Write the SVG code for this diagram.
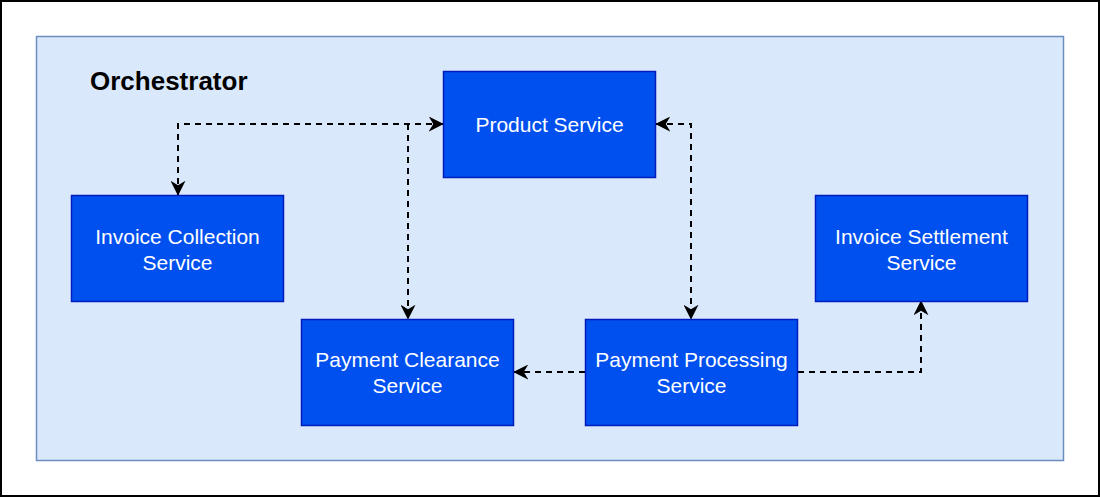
<svg xmlns="http://www.w3.org/2000/svg" width="1100" height="497" viewBox="0 0 1100 497">
<style>
.node rect{fill:#0050ef;stroke:#001dbc;stroke-width:1.5}
.node text{fill:#ffffff;font-family:"Liberation Sans",Arial,sans-serif;font-size:21px;text-anchor:middle}
.edge{fill:none;stroke:#000;stroke-width:2;stroke-dasharray:6 5}
</style>
<defs>
<marker id="ah" viewBox="0 0 10 10" refX="9.5" refY="5" markerWidth="15" markerHeight="15" markerUnits="userSpaceOnUse" orient="auto-start-reverse">
<path d="M0,0 L10,5 L0,10 L3,5 Z" fill="#000"/>
</marker>
</defs>
<rect x="1" y="1" width="1098" height="495" fill="#fff" stroke="#000" stroke-width="2"/>
<g id="orchestrator">
<rect x="36.5" y="36.5" width="1027" height="424" fill="#dae8fc" stroke="#6c8ebf" stroke-width="1.5"/>
<text x="90" y="90" font-family="Liberation Sans,Arial,sans-serif" font-size="26" font-weight="bold" fill="#000">Orchestrator</text>
</g>
<g id="connectors">
<path class="edge" d="M178,195 V124 H443" marker-start="url(#ah)" marker-end="url(#ah)"/>
<path class="edge" d="M408,124 V319" marker-end="url(#ah)"/>
<path class="edge" d="M656,124 H691 V319" marker-start="url(#ah)" marker-end="url(#ah)"/>
<path class="edge" d="M585,372 H514" marker-end="url(#ah)"/>
<path class="edge" d="M798,372 H921 V301" marker-end="url(#ah)"/>
</g>
<g id="product" class="node"><rect x="443.5" y="71.5" width="212" height="106"/><text x="549.5" y="132">Product Service</text></g>
<g id="invoice-collection" class="node"><rect x="71.5" y="195.5" width="212" height="106"/><text x="177.5" y="244">Invoice Collection</text><text x="177.5" y="270">Service</text></g>
<g id="invoice-settlement" class="node"><rect x="815.5" y="195.5" width="212" height="106"/><text x="921.5" y="244">Invoice Settlement</text><text x="921.5" y="270">Service</text></g>
<g id="payment-clearance" class="node"><rect x="301.5" y="319.5" width="212" height="106"/><text x="407.5" y="367">Payment Clearance</text><text x="407.5" y="393">Service</text></g>
<g id="payment-processing" class="node"><rect x="585.5" y="319.5" width="212" height="106"/><text x="691.5" y="367">Payment Processing</text><text x="691.5" y="393">Service</text></g>
</svg>
